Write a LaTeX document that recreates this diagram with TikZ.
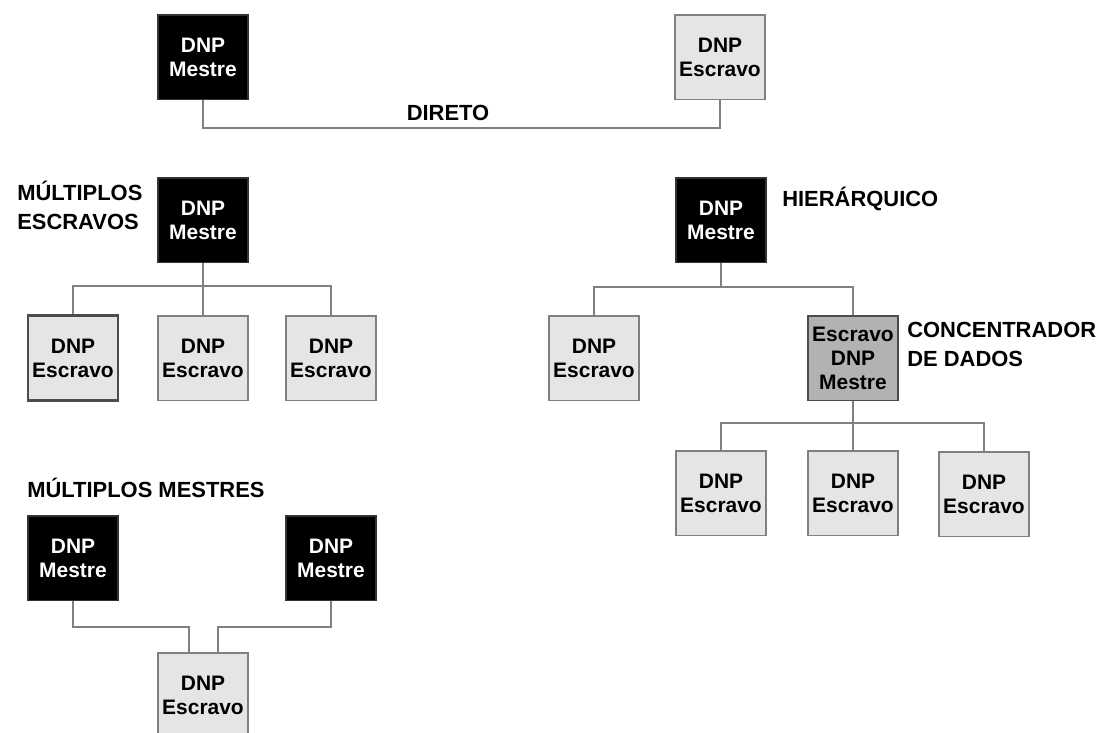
\documentclass[tikz,border=0pt]{standalone}
\usepackage{fontspec}
\setmainfont{Liberation Sans}
\usetikzlibrary{positioning}

\begin{document}
\begin{tikzpicture}[
    x=0.025cm, y=-0.025cm,
    box/.style={rectangle, draw=black!50, line width=1.3pt, minimum width=2.25cm, minimum height=2.12cm, inner sep=0pt, align=center, font=\fontsize{14.9}{17}\selectfont\bfseries},
    mestre/.style={box, fill=black, draw=black!80, text=white},
    escravo/.style={box, fill=black!10},
    concentrador/.style={box, fill=black!30, draw=black!70},
    titulo/.style={font=\fontsize{15.6}{20.5}\selectfont\bfseries, align=left, inner sep=0pt},
    link/.style={draw=black!50, line width=1.6pt}
]
\useasboundingbox (0,0) rectangle (1100,732);

% direto
\node[mestre] (m1) at (203,57) {DNP\\Mestre};
\node[escravo] (e1) at (720,57) {DNP\\Escravo};
\draw[link] (m1.south) -- ++(0,28) -| (e1.south);
\node[titulo] (direto) at (448,113) {DIRETO};

% multiplos escravos
\node[titulo, anchor=north west] (multesc) at (17,181) {MÚLTIPLOS\\ESCRAVOS};
\node[mestre] (m2) at (203,220) {DNP\\Mestre};
\node[escravo, draw=black!70, line width=2pt] (s1) at (73,358) {DNP\\Escravo};
\node[escravo] (s2) at (203,358) {DNP\\Escravo};
\node[escravo] (s3) at (331,358) {DNP\\Escravo};
\draw[link] (s1.north) -- ++(0,-28) -| (s3.north);
\draw[link] (m2.south) -- (s2.north);

% hierarquico
\node[titulo, anchor=base west] (hier) at (782,206) {HIERÁRQUICO};
\node[mestre] (m3) at (721,220) {DNP\\Mestre};
\node[escravo] (e4) at (594,358) {DNP\\Escravo};
\node[concentrador] (c1) at (853,358) {Escravo\\DNP\\Mestre};
\node[titulo, anchor=north west] (conc) at (907,322) {CONCENTRADOR\\DE DADOS};
\draw[link] (e4.north) -- ++(0,-28) -| (c1.north);
\draw[link] (m3.south) -- ++(0,25);
\node[escravo] (e5) at (721,493) {DNP\\Escravo};
\node[escravo] (e6) at (853,493) {DNP\\Escravo};
\node[escravo] (e7) at (984,494) {DNP\\Escravo};
\draw[link] (e5.north) -- ++(0,-27) -| (e7.north);
\draw[link] (c1.south) -- (e6.north);

% multiplos mestres
\node[titulo, anchor=base west] (multmes) at (27,497) {MÚLTIPLOS MESTRES};
\node[mestre] (m4) at (73,558) {DNP\\Mestre};
\node[mestre] (m5) at (331,558) {DNP\\Mestre};
\node[escravo] (e8) at (203,695) {DNP\\Escravo};
\draw[link] (m4.south) -- ++(0,26) -| ([xshift=-0.35cm]e8.north);
\draw[link] (m5.south) -- ++(0,26) -| ([xshift=0.375cm]e8.north);
\end{tikzpicture}
\end{document}
